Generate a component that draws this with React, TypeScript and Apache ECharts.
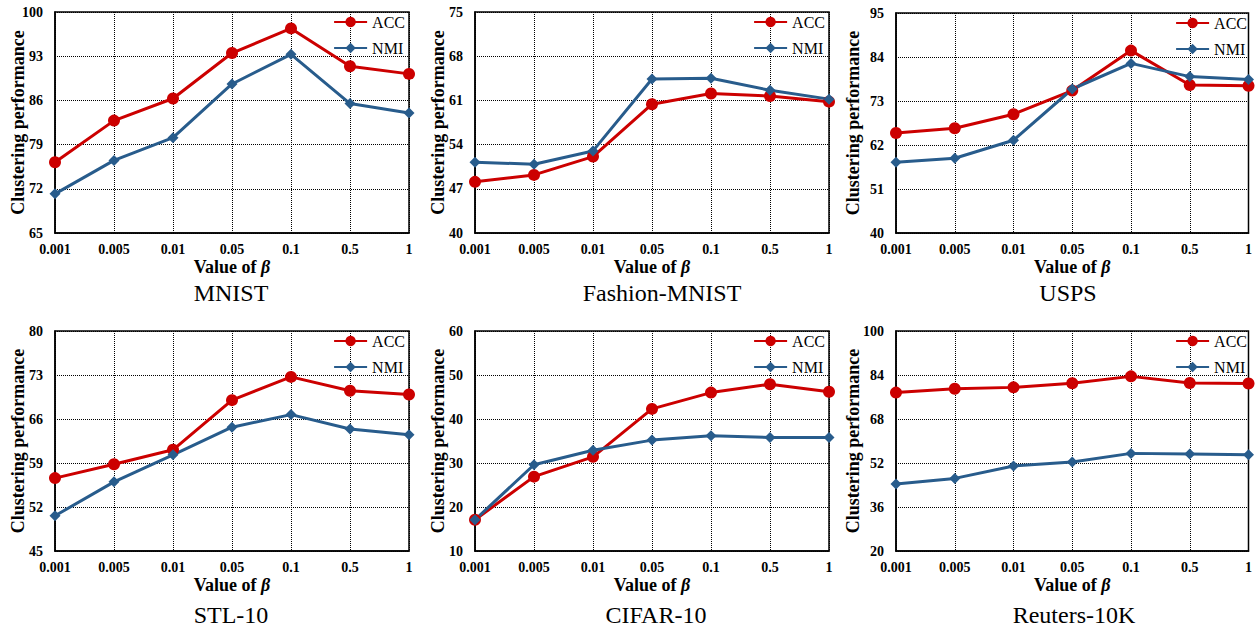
import React, { useEffect, useRef } from "react";
import * as echarts from "echarts";

const categories = ["0.001", "0.005", "0.01", "0.05", "0.1", "0.5", "1"];
const seriesNames = ["ACC", "NMI"];
const datasetNames = ["MNIST", "Fashion-MNIST", "USPS", "STL-10", "CIFAR-10", "Reuters-10K"];

const mnistAcc = [76.2, 82.8, 86.3, 93.5, 97.4, 91.4, 90.2];
const mnistNmi = [71.2, 76.5, 80.1, 88.6, 93.3, 85.5, 84.0];
const fashionAcc = [48.1, 49.2, 52.1, 60.4, 62.1, 61.7, 60.8];
const fashionNmi = [51.2, 50.9, 53.0, 64.4, 64.5, 62.6, 61.2];
const uspsAcc = [65.0, 66.2, 69.7, 75.6, 85.6, 77.0, 76.8];
const uspsNmi = [57.7, 58.7, 63.2, 76.0, 82.4, 79.1, 78.4];
const stlAcc = [56.6, 58.8, 61.1, 69.0, 72.7, 70.5, 69.9];
const stlNmi = [50.6, 56.0, 60.3, 64.7, 66.7, 64.4, 63.5];
const cifarAcc = [17.1, 26.9, 31.4, 42.3, 46.0, 47.9, 46.2];
const cifarNmi = [17.1, 29.6, 32.9, 35.2, 36.2, 35.8, 35.8];
const reutersAcc = [77.6, 79.0, 79.5, 81.0, 83.5, 81.1, 80.9];
const reutersNmi = [44.4, 46.4, 50.9, 52.4, 55.5, 55.3, 55.0];

const accData = [mnistAcc, fashionAcc, uspsAcc, stlAcc, cifarAcc, reutersAcc];
const nmiData = [mnistNmi, fashionNmi, uspsNmi, stlNmi, cifarNmi, reutersNmi];

const yMins = [65, 40, 40, 45, 10, 20];
const yMaxs = [100, 75, 95, 80, 60, 100];
const yIntervals = [7, 7, 11, 7, 10, 16];

// layout (pixels)
const grids = [
  { left: 55, top: 12, width: 354, height: 221 },
  { left: 475, top: 12, width: 354, height: 221 },
  { left: 896, top: 13, width: 355, height: 220 },
  { left: 55, top: 331, width: 354, height: 220 },
  { left: 475, top: 331, width: 354, height: 220 },
  { left: 896, top: 331, width: 355, height: 220 },
];
const yNameGaps = [28, 28, 34, 28, 28, 34];
const titlePos = [
  [231, 293],
  [662, 293],
  [1068, 293],
  [231, 615],
  [656, 615],
  [1074, 615],
];

const FONT = "'Liberation Serif', 'Times New Roman', serif";
const RED = "#CC0000";
const BLUE = "#285C8C";

export default function App() {
  const ref = useRef<HTMLDivElement>(null);
  useEffect(() => {
    if (!ref.current) return;
    const chart = echarts.init(ref.current, null, { renderer: "svg" });
    const option: any = {
      animation: false,
      backgroundColor: "#fff",
      textStyle: { fontFamily: FONT },
      grid: grids.map((g) => ({
        ...g,
        show: true,
        borderColor: "#000",
        borderWidth: 1.5,
        backgroundColor: "transparent",
        containLabel: false,
      })),
      xAxis: grids.map((_, i) => ({
        type: "category",
        gridIndex: i,
        data: categories,
        boundaryGap: false,
        name: "Value of {b|β}",
        nameLocation: "middle",
        nameGap: 25,
        nameMoveOverlap: false,
        nameTextStyle: {
          fontFamily: FONT,
          fontWeight: "bold",
          fontSize: 18,
          color: "#000",
          rich: {
            b: { fontFamily: FONT, fontWeight: "bold", fontStyle: "italic", fontSize: 18, color: "#000" },
          },
        },
        axisLine: { show: true, lineStyle: { color: "#000", width: 1.5 } },
        axisTick: { show: false },
        axisLabel: { fontFamily: FONT, fontWeight: "bold", fontSize: 14, color: "#000", margin: 9 },
        splitLine: { show: true, lineStyle: { color: "#000", type: "dotted", width: 1 } },
      })),
      yAxis: grids.map((_, i) => ({
        type: "value",
        gridIndex: i,
        min: yMins[i],
        max: yMaxs[i],
        interval: yIntervals[i],
        name: "Clustering performance",
        nameLocation: "middle",
        nameGap: yNameGaps[i],
        nameMoveOverlap: false,
        nameTextStyle: { fontFamily: FONT, fontWeight: "bold", fontSize: 18, color: "#000" },
        axisLine: { show: true, lineStyle: { color: "#000", width: 1.5 } },
        axisTick: { show: false },
        axisLabel: { fontFamily: FONT, fontWeight: "bold", fontSize: 14, color: "#000", margin: 12 },
        splitLine: { show: true, lineStyle: { color: "#000", type: "dotted", width: 1 } },
      })),
      legend: grids.map((g) => ({
        data: seriesNames,
        orient: "vertical",
        right: 1255 - (g.left + g.width) + 4,
        top: g.top + 2,
        padding: 0,
        itemWidth: 33,
        itemHeight: 13,
        itemGap: 10,
        textStyle: { fontFamily: FONT, fontSize: 16, color: "#000", lineHeight: 16 },
      })),
      series: grids.flatMap((_, i) => [
        {
          name: seriesNames[0],
          type: "line",
          xAxisIndex: i,
          yAxisIndex: i,
          data: accData[i],
          symbol: "circle",
          symbolSize: 12,
          lineStyle: { color: RED, width: 3 },
          itemStyle: { color: RED },
        },
        {
          name: seriesNames[1],
          type: "line",
          xAxisIndex: i,
          yAxisIndex: i,
          data: nmiData[i],
          symbol: "diamond",
          symbolSize: 11,
          lineStyle: { color: BLUE, width: 3 },
          itemStyle: { color: BLUE },
        },
      ]),
      graphic: datasetNames.map((t, i) => ({
        type: "text",
        x: titlePos[i][0],
        y: titlePos[i][1],
        style: {
          text: t,
          font: `24px ${FONT}`,
          fill: "#000",
          align: "center",
          verticalAlign: "middle",
          textAlign: "center",
          textVerticalAlign: "middle",
        },
      })),
    };
    chart.setOption(option);
    return () => chart.dispose();
  }, []);
  return (
    <div
      ref={ref}
      style={{ position: "fixed", left: 0, top: 0, width: 1255, height: 628, background: "#fff" }}
    />
  );
}
